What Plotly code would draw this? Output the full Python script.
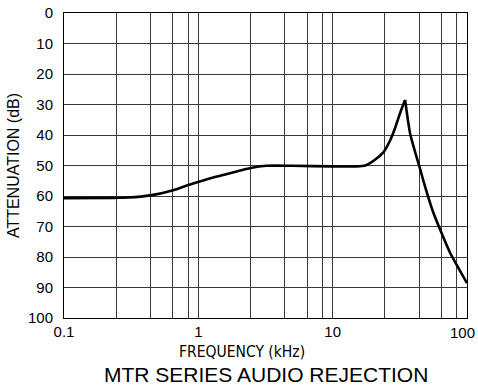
import plotly.graph_objects as go

# Audio rejection response of the MTR series
freq_khz = [0.1, 0.24, 0.3, 0.44, 0.65, 0.84, 1.07, 1.35, 1.83, 2.45, 3.2, 5, 10,
            15, 17.5, 20.4, 23.9, 26.8, 29.2, 31.2, 33.0, 34.6,
            37.7, 41.1, 44.2, 48.8, 56.2, 64.9, 74.8, 88.9, 100]
atten_db = [60.7, 60.6, 60.5, 59.8, 58.1, 56.4, 55.0, 53.7, 52.2, 50.8, 50.1, 50.1, 50.3,
            50.3, 50.0, 48.3, 45.6, 41.7, 37.6, 33.8, 30.8, 28.5,
            39.5, 45.6, 50.3, 57.0, 65.5, 72.3, 78.6, 84.6, 88.6]
PEAK = atten_db.index(min(atten_db))

# Decade labels plus the intermediate grid lines within each decade
decades = [0.1, 1, 10, 100]
grid_mult = [2.44, 4.40, 6.46, 8.41]
x_tickvals = []
x_ticktext = []
for d in decades:
    x_tickvals.append(d)
    # the last decade label is drawn separately so it stays inside the page
    x_ticktext.append(f"{d:g}" if d < decades[-1] else "")
    if d < decades[-1]:
        for m in grid_mult:
            x_tickvals.append(d * m)
            x_ticktext.append("")

y_ticks = list(range(0, 101, 10))

FONT = "Liberation Sans, Arial, Helvetica, sans-serif"
NARROW = "DejaVu Sans Condensed, Roboto, Liberation Sans, sans-serif"

fig = go.Figure()
# Smooth segments on each side of the resonance, meeting at a sharp peak
for xs, ys in ((freq_khz[:PEAK + 1], atten_db[:PEAK + 1]),
               (freq_khz[PEAK:], atten_db[PEAK:])):
    fig.add_trace(go.Scatter(
        x=xs, y=ys, mode="lines",
        line=dict(color="black", width=2.6, shape="spline", smoothing=0.6),
        showlegend=False,
    ))

fig.update_layout(
    width=478, height=387,
    margin=dict(l=64, r=11, t=13, b=69),
    paper_bgcolor="white", plot_bgcolor="white",
    font=dict(family=FONT, color="black", size=15),
    xaxis=dict(
        type="log", range=[-1, 2], automargin=False,
        tickvals=x_tickvals, ticktext=x_ticktext,
        showgrid=True, gridcolor="#3a3a3a", gridwidth=1,
        showline=True, mirror=True, linecolor="black", linewidth=1,
        ticks="", tickfont=dict(size=15), zeroline=False,
    ),
    yaxis=dict(
        range=[100, 0], automargin=False,
        tickvals=y_ticks, ticktext=[str(v) for v in y_ticks],
        showgrid=True, gridcolor="#3a3a3a", gridwidth=1,
        showline=True, mirror=True, linecolor="black", linewidth=1,
        ticks="", ticklabelstandoff=7, tickfont=dict(size=15), zeroline=False,
        title=dict(text="ATTENUATION (dB)", font=dict(size=16), standoff=4),
    ),
    annotations=[
        dict(text=f"{decades[-1]:g}", xref="x", yref="paper",
             x=2, y=0, xanchor="center", yanchor="middle",
             xshift=-5, yshift=-14, showarrow=False, font=dict(size=15)),
        dict(text="FREQUENCY (kHz)", xref="paper", yref="paper",
             x=0.4417, y=-0.11, xanchor="center", yanchor="middle",
             showarrow=False, font=dict(size=15.5, family=NARROW)),
        dict(text="MTR SERIES AUDIO REJECTION", xref="paper", yref="paper",
             x=0.5, y=-0.185, xanchor="center", yanchor="middle",
             showarrow=False, font=dict(size=21)),
    ],
)

fig.write_html("out.html")
